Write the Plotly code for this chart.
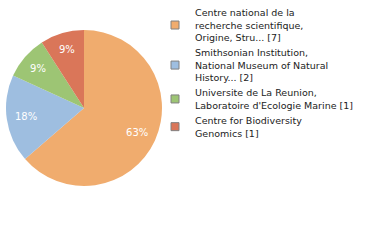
import plotly.graph_objects as go

labels = [
    "Centre national de la<br>recherche scientifique,<br>Origine, Stru... [7]",
    "Smithsonian Institution,<br>National Museum of Natural<br>History... [2]",
    "Universite de La Reunion,<br>Laboratoire d'Ecologie Marine [1]",
    "Centre for Biodiversity<br>Genomics [1]",
]
values = [7, 2, 1, 1]
colors = ["#F0AC6E", "#9EBEE0", "#9DC574", "#DA7659"]

total = sum(values)
texts = [f"{int(v * 100 / total)}%" for v in values]

W, H = 380, 240
dom = dict(x=[6 / W, 162 / W], y=[1 - 186 / H, 1 - 30 / H])

fig = go.Figure()
# filled pie
fig.add_trace(go.Pie(
    labels=labels, values=values,
    textinfo="none",
    marker=dict(colors=colors, line=dict(width=0)),
    sort=False, direction="clockwise", rotation=0,
    domain=dom, hoverinfo="none", showlegend=False,
))
# transparent ring overlay used only to place the percentage labels
fig.add_trace(go.Pie(
    labels=labels, values=values,
    text=texts, textinfo="text", textposition="inside",
    insidetextorientation="horizontal",
    textfont=dict(color="white", size=10, family="DejaVu Sans"),
    marker=dict(colors=["rgba(0,0,0,0)"] * len(values), line=dict(width=0)),
    hole=0.5,
    sort=False, direction="clockwise", rotation=0,
    domain=dom, hoverinfo="none", showlegend=False,
))
# legend entries
for lab, col in zip(labels, colors):
    fig.add_trace(go.Scatter(
        x=[None], y=[None], mode="markers", name=lab,
        marker=dict(symbol="square", size=8, color=col,
                    line=dict(color="#808080", width=1)),
        hoverinfo="none",
    ))

fig.update_layout(
    width=W, height=H,
    margin=dict(l=0, r=0, t=0, b=0),
    paper_bgcolor="white",
    plot_bgcolor="white",
    xaxis=dict(visible=False),
    yaxis=dict(visible=False),
    showlegend=True,
    legend=dict(
        x=155 / W, y=1, xanchor="left", yanchor="top",
        maxheight=1,
        font=dict(family="DejaVu Sans", size=9.5, color="#222222"),
        bgcolor="rgba(0,0,0,0)",
        itemclick=False, itemdoubleclick=False,
    ),
)
fig.write_html("out.html")
